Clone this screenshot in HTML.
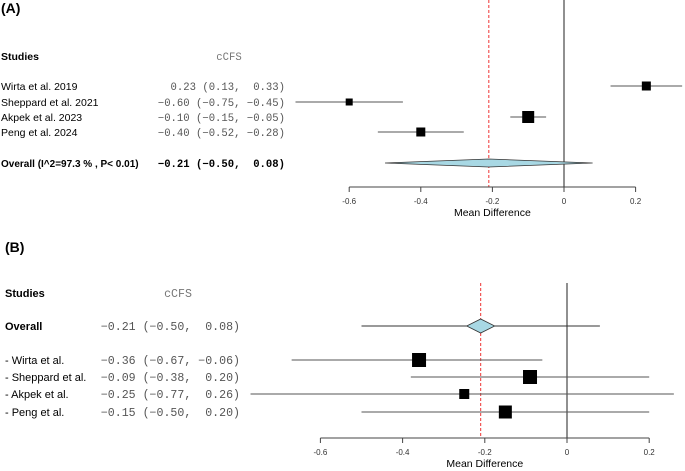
<!DOCTYPE html>
<html><head><meta charset="utf-8"><style>
body{margin:0;background:#fff;}
svg{display:block;}
.lab{font-family:"Liberation Sans",sans-serif;font-size:10.5px;fill:#000;}
.b{font-weight:bold;}
.num{font-family:"Liberation Mono",monospace;font-size:10px;fill:#555;white-space:pre;}
.numb{font-family:"Liberation Mono",monospace;font-size:10px;fill:#000;font-weight:bold;white-space:pre;}
.tick{font-family:"Liberation Sans",sans-serif;font-size:8px;fill:#333;}
</style></head><body>
<svg id="c" width="685" height="471" xmlns="http://www.w3.org/2000/svg"></svg>
<script>
const studiesA = ["Wirta et al. 2019","Sheppard et al. 2021","Akpek et al. 2023","Peng et al. 2024"];
const meanA = [0.23,-0.60,-0.10,-0.40];
const lowA = [0.13,-0.75,-0.15,-0.52];
const highA = [0.33,-0.45,-0.05,-0.28];
const boxA = [9,7,12,9];
const overallA = [-0.21,-0.50,0.08];
const studiesB = ["- Wirta et al.","- Sheppard et al.","- Akpek et al.","- Peng et al."];
const meanB = [-0.36,-0.09,-0.25,-0.15];
const lowB = [-0.67,-0.38,-0.77,-0.50];
const highB = [-0.06,0.20,0.26,0.20];
const boxB = [14,14,10,13];
const overallB = [-0.21,-0.50,0.08];
const ticks = [-0.6,-0.4,-0.2,0,0.2];
const tickLabels = ["-0.6","-0.4","-0.2","0","0.2"];

const svg=document.getElementById('c');
const NS='http://www.w3.org/2000/svg';
function el(tag,attrs,text,name){const e=document.createElementNS(NS,tag);for(const k in attrs)e.setAttribute(k,attrs[k]);if(text!==undefined)e.textContent=text;


svg.appendChild(e);return e;}
function fmt(v){return (v<0?'\u2212':'')+Math.abs(v).toFixed(2);}
function fmtR(v){return (v<0?'\u2212':' ')+Math.abs(v).toFixed(2);}
function est(m,l,h){return fmtR(m)+' ('+fmt(l)+', '+fmtR(h)+')';}

function panel(p){
  const x=v=>p.x0+v*p.scale;
  const ns='font-size:'+p.numSize+'px';
  el('text',{x:p.lx,y:p.titleY,class:'lab b',style:'font-size:14px'},p.title,'panel-title');
  el('text',{x:p.lx,y:p.headY,class:'lab b',style:'font-size:'+p.labSize+'px'},'Studies','studies-header');
  el('text',{x:p.ccfsX,y:p.headY,class:'num','text-anchor':'middle',style:'fill:#777;'+ns},'cCFS','column-header');
  el('line',{x1:x(0),x2:x(0),y1:p.zTop,y2:p.axisY,stroke:'#222','stroke-width':1},undefined,'zero-line');
  el('line',{x1:x(p.overall[0]),x2:x(p.overall[0]),y1:p.zTop,y2:p.axisY,stroke:'#e33','stroke-width':1,'stroke-dasharray':'3,2'},undefined,'overall-reference-line');
  el('line',{x1:x(ticks[0]),x2:x(ticks[ticks.length-1]),y1:p.axisY,y2:p.axisY,stroke:'#444'},undefined,'x-axis');
  ticks.forEach((t,i)=>{
    el('line',{x1:x(t),x2:x(t),y1:p.axisY,y2:p.axisY+5,stroke:'#444'},undefined,'x-tick');
    el('text',{x:x(t),y:p.axisY+17,class:'tick','text-anchor':'middle'},tickLabels[i],'x-tick-label');
  });
  el('text',{x:x(-0.2),y:p.axisY+29,class:'lab','text-anchor':'middle'},'Mean Difference','x-axis-title');
  p.studies.forEach((s,i)=>{
    const y=p.rows[i];
    el('text',{x:p.lx,y:y+4,class:'lab',style:'font-size:'+p.labSize+'px'},s,'study-label');
    el('text',{x:p.numX,y:y+4,class:'num','text-anchor':'end',style:ns},est(p.mean[i],p.low[i],p.high[i]),'study-estimate');
    el('line',{x1:x(p.low[i]),x2:x(p.high[i]),y1:y,y2:y,stroke:'#555'},undefined,'ci-line');
    const b=p.box[i];
    el('rect',{x:x(p.mean[i])-b/2,y:y-b/2,width:b,height:b,fill:'#000'},undefined,'study-box');
  });
  const oy=p.oRow;
  el('text',{x:p.lx,y:oy+4,class:'lab b',style:'font-size:'+p.olSize+'px'},p.overallLabel,'overall-label');
  el('text',{x:p.numX,y:oy+4,class:p.boldNum?'numb':'num','text-anchor':'end',style:ns},est(p.overall[0],p.overall[1],p.overall[2]),'overall-estimate');
  if(p.wideDiamond){
    const h=p.dh;
    el('polygon',{points:`${x(p.overall[1])},${oy} ${x(p.overall[0])},${oy-h} ${x(p.overall[2])},${oy} ${x(p.overall[0])},${oy+h}`,fill:'#a8d8e4',stroke:'#333','stroke-width':0.8},undefined,'overall-diamond');
  } else {
    el('line',{x1:x(p.overall[1]),x2:x(p.overall[2]),y1:oy,y2:oy,stroke:'#333'},undefined,'overall-ci-line');
    const w=p.dw,h=p.dh;
    el('polygon',{points:`${x(p.overall[0])-w},${oy} ${x(p.overall[0])},${oy-h} ${x(p.overall[0])+w},${oy} ${x(p.overall[0])},${oy+h}`,fill:'#a8d8e4',stroke:'#333','stroke-width':0.8},undefined,'overall-diamond');
  }
}
panel({title:'(A)',lx:1,titleY:13,headY:60,ccfsX:229,numX:285,numSize:10.6,labSize:10.5,olSize:10,x0:564,scale:358,zTop:0,axisY:187,
  studies:studiesA,mean:meanA,low:lowA,high:highA,box:boxA,rows:[86,102,117,132],oRow:163,
  overall:overallA,overallLabel:'Overall (I^2=97.3 % , P< 0.01)',boldNum:true,wideDiamond:true,dh:4});
panel({title:'(B)',lx:5,titleY:252,headY:297,ccfsX:178,numX:240,numSize:11.6,labSize:11,olSize:11,x0:567,scale:411,zTop:283,axisY:438,
  studies:studiesB,mean:meanB,low:lowB,high:highB,box:boxB,rows:[360,377,394,412],oRow:326,
  overall:overallB,overallLabel:'Overall',boldNum:false,wideDiamond:false,dw:14,dh:7});
</script>
</body></html>
